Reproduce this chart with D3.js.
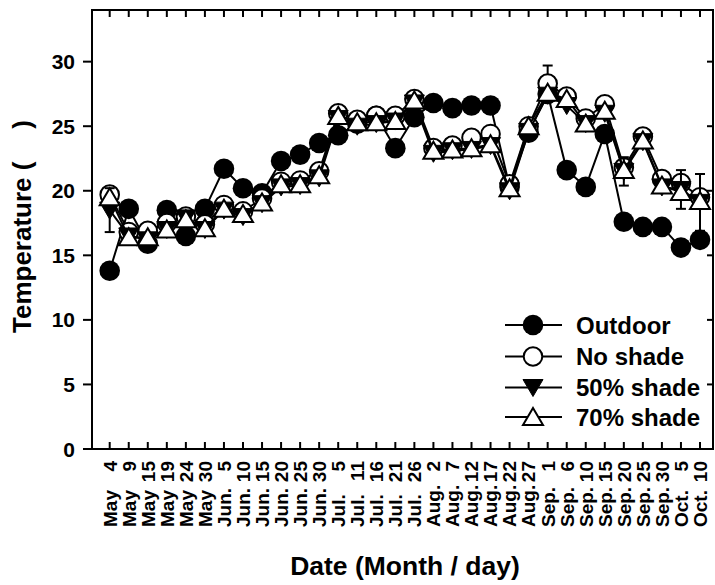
<!DOCTYPE html>
<html>
<head>
<meta charset="utf-8">
<script src="https://cdn.jsdelivr.net/npm/d3@7/dist/d3.min.js"></script>
<style>
  html, body { margin: 0; padding: 0; background: #fff; }
  svg { display: block; font-family: "Liberation Sans", Arial, sans-serif; font-weight: bold; }
</style>
</head>
<body>
<svg id="chart" width="715" height="585"></svg>
<script>
// ---- data ----
const months = ["May","May","May","May","May","May","Jun.","Jun.","Jun.","Jun.","Jun.","Jun.","Jul.","Jul.","Jul.","Jul.","Jul.","Aug.","Aug.","Aug.","Aug.","Aug.","Aug.","Sep.","Sep.","Sep.","Sep.","Sep.","Sep.","Sep.","Oct.","Oct."];
const days = ["4","9","15","19","24","30","5","10","15","20","25","30","5","11","16","21","26","2","7","12","17","22","27","1","6","10","15","20","25","30","5","10"];
const outdoor = [13.8,18.6,15.9,18.5,16.5,18.6,21.7,20.2,19.8,22.3,22.8,23.7,24.3,25.2,25.8,23.3,25.7,26.8,26.4,26.6,26.6,20.3,24.5,27.5,21.6,20.3,24.4,17.6,17.2,17.2,15.6,16.2];
const noShade = [19.7,16.8,16.9,17.5,18.0,17.4,18.9,18.4,19.4,20.7,20.8,21.5,26.0,25.5,25.8,25.8,27.1,23.3,23.5,24.1,24.4,20.5,25.0,28.3,27.3,25.6,26.7,21.8,24.2,20.9,20.6,19.5];
const shade50 = [18.5,16.5,16.2,17.0,17.9,17.0,18.5,18.0,19.0,20.3,20.4,21.0,25.6,25.0,25.2,25.4,26.8,22.9,23.1,23.2,23.5,20.0,24.6,27.4,26.6,25.2,26.0,21.5,23.8,20.3,20.1,19.1];
const shade70 = [19.5,16.4,16.4,17.0,17.8,17.1,18.6,18.2,19.1,20.5,20.5,21.2,25.8,25.3,25.3,25.4,27.0,23.1,23.2,23.3,23.6,20.2,25.0,27.6,27.1,25.2,26.2,21.6,23.9,20.4,19.9,19.2];
const noShadeErr = [0,0,0,0,0,0,0,0,0,0,0,0,0,0,0,0,0,0,0,0,0,0,0,1.4,0,0,0,0,0,0,0,0];
const shade50Err = [1.7,0,0,0,0,0,0,0,0,0,0,0,0,0,0,0,0,0,0,0,0,0,0,0,0,0,0,1.1,0,0,1.5,2.2];
const yTicks = [0,5,10,15,20,25,30];
const seriesNames = ["Outdoor","No shade","50% shade","70% shade"];

// ---- layout ----
const svg = d3.select("#chart");
const L = 92, R = 713, T = 10, B = 449;
const x = d3.scaleLinear().domain([0, 31]).range([109.7, 700]);
const y = d3.scaleLinear().domain([0, 34]).range([B, T]);
const idx = d3.range(days.length);

// frame ticks
const g = svg.append("g");
g.selectAll(".lt").data(yTicks).join("line")
  .attr("x1", L - 9).attr("x2", L).attr("y1", d => y(d)).attr("y2", d => y(d))
  .attr("stroke", "#000").attr("stroke-width", 2);
g.selectAll(".rt").data(yTicks).join("line")
  .attr("x1", R - 6).attr("x2", R).attr("y1", d => y(d)).attr("y2", d => y(d))
  .attr("stroke", "#000").attr("stroke-width", 2);
g.selectAll(".tt").data(idx).join("line")
  .attr("x1", d => x(d)).attr("x2", d => x(d)).attr("y1", T).attr("y2", T + 7)
  .attr("stroke", "#000").attr("stroke-width", 2);
g.selectAll(".bt").data(idx).join("line")
  .attr("x1", d => x(d)).attr("x2", d => x(d)).attr("y1", B - 7).attr("y2", B)
  .attr("stroke", "#000").attr("stroke-width", 2);
g.append("rect").attr("x", L).attr("y", T).attr("width", R - L).attr("height", B - T)
  .attr("fill", "none").attr("stroke", "#000").attr("stroke-width", 2);

// y tick labels
g.selectAll(".yl").data(yTicks).join("text")
  .attr("x", 75).attr("y", d => y(d)).attr("dy", "0.36em")
  .attr("text-anchor", "end").attr("font-size", 21).text(d => d);

// x tick labels: month at bottom, day at top (rotated)
idx.forEach(i => {
  g.append("text").attr("transform", `translate(${x(i)},527) rotate(-90)`)
    .attr("dy", "0.36em").attr("text-anchor", "start").attr("font-size", 19).text(months[i]);
  g.append("text").attr("transform", `translate(${x(i)},461) rotate(-90)`)
    .attr("dy", "0.36em").attr("text-anchor", "end").attr("font-size", 19).text(days[i]);
});

// axis titles
svg.append("text").attr("x", 405).attr("y", 575).attr("text-anchor", "middle")
  .attr("font-size", 26.5).text("Date (Month / day)");
svg.append("text").attr("transform", "translate(31,333) rotate(-90)")
  .attr("text-anchor", "start").attr("font-size", 26).text("Temperature (");
svg.append("text").attr("transform", "translate(31,120) rotate(-90)")
  .attr("text-anchor", "end").attr("font-size", 26).text(")");

// markers
const triUp = "M0,-9 L10,8 L-10,8 Z";
const triDown = "M0,9 L10,-8 L-10,-8 Z";
function drawMarker(sel, type) {
  if (type === 0) sel.append("circle").attr("r", 10.3).attr("fill", "#000");
  else if (type === 1) sel.append("circle").attr("r", 9.3).attr("fill", "#fff").attr("stroke", "#000").attr("stroke-width", 2);
  else if (type === 2) sel.append("path").attr("d", triDown).attr("fill", "#000").attr("stroke", "#000").attr("stroke-width", 1);
  else sel.append("path").attr("d", triUp).attr("fill", "#fff").attr("stroke", "#000").attr("stroke-width", 2).attr("stroke-linejoin", "miter");
}

const all = [outdoor, noShade, shade50, shade70];
const errs = [null, noShadeErr, shade50Err, null];
const line = d3.line().x((d, i) => x(i)).y(d => y(d));
const plot = svg.append("g");

all.forEach((vals, s) => {
  const sg = plot.append("g");
  if (errs[s]) {
    idx.filter(i => errs[s][i] > 0).forEach(i => {
      const lo = y(vals[i] - errs[s][i]), hi = y(vals[i] + errs[s][i]);
      sg.append("line").attr("x1", x(i)).attr("x2", x(i)).attr("y1", lo).attr("y2", hi)
        .attr("stroke", "#000").attr("stroke-width", 2);
      [lo, hi].forEach(yy => sg.append("line").attr("x1", x(i) - 5).attr("x2", x(i) + 5)
        .attr("y1", yy).attr("y2", yy).attr("stroke", "#000").attr("stroke-width", 2));
    });
  }
  sg.append("path").datum(vals).attr("d", line).attr("fill", "none")
    .attr("stroke", "#000").attr("stroke-width", 2);
  vals.forEach((v, i) => {
    const m = sg.append("g").attr("transform", `translate(${x(i)},${y(v)})`);
    drawMarker(m, s);
  });
});

// legend
const legY = [325, 356.5, 387.5, 417];
seriesNames.forEach((name, s) => {
  const lg = svg.append("g").attr("transform", `translate(0,${legY[s]})`);
  lg.append("line").attr("x1", 505).attr("x2", 562).attr("y1", 0).attr("y2", 0)
    .attr("stroke", "#000").attr("stroke-width", 2);
  drawMarker(lg.append("g").attr("transform", "translate(533,0)"), s);
  lg.append("text").attr("x", 576).attr("y", 0).attr("dy", "0.36em")
    .attr("font-size", 24).text(name);
});
</script>
</body>
</html>
